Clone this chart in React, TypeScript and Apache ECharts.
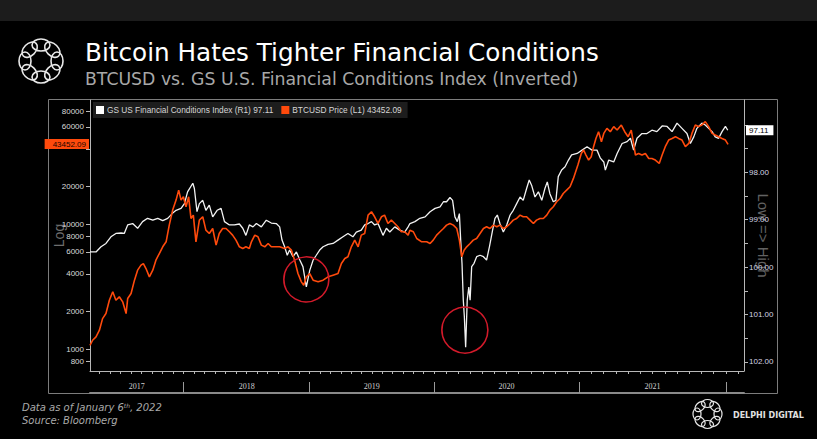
import React, { useEffect, useRef } from 'react';
import * as echarts from 'echarts';

const gsLabel = 'GS US Financial Conditions Index (R1)';
const btcLabel = 'BTCUSD Price (L1)';
const gsLast = 97.11;
const btcLast = 43452.09;

// [observation index (weekly), index level]
const gsIndex: [number, number][] = [
  [0, 99.68], [2.3, 99.68], [4.2, 99.57], [6.1, 99.5], [8.0, 99.36], [9.9, 99.29], [11.9, 99.28], [13.1, 99.29], [14.4, 99.11], [16.3, 99.08], [18.2, 99.18], [20.1, 99.04], [22.0, 98.97], [24.0, 99.01], [25.9, 98.97], [27.8, 99.02], [29.7, 98.97], [31.4, 98.87], [32.9, 98.8], [34.8, 98.76], [36.1, 98.66], [37.3, 98.41], [39.3, 98.23], [39.9, 98.34], [40.9, 98.83], [41.8, 98.66], [43.1, 98.59], [44.3, 98.8], [45.6, 98.69], [46.9, 98.94], [48.6, 98.8], [50.1, 98.76], [51.4, 99.04], [53.3, 99.11], [55.2, 99.11], [57.1, 99.09], [58.4, 99.18], [59.6, 99.33], [60.9, 99.11],
  [62.3, 99.15], [63.6, 99.08], [65.5, 99.15], [67.4, 99.01], [69.3, 99.07], [71.2, 99.08], [72.5, 99.15], [73.4, 99.43], [74.4, 99.57], [75.4, 99.75], [76.3, 99.64], [77.6, 99.78], [78.9, 99.68], [80.2, 99.85], [81.4, 99.99], [82.7, 100.42], [84.0, 100.07], [85.3, 99.85], [86.5, 99.75], [87.8, 99.64], [89.1, 99.57], [91.0, 99.52], [92.9, 99.5], [94.8, 99.43], [96.7, 99.36], [98.6, 99.29], [100.5, 99.36], [101.8, 99.26], [103.7, 99.22], [105.0, 99.11], [106.3, 99.08], [107.6, 99.04], [108.8, 99.11], [110.1, 99.08], [112.0, 99.33], [113.3, 99.18], [114.6, 99.26], [116.5, 99.15], [118.4, 99.22], [120.3, 99.26], [121.6, 99.15],
  [122.3, 99.08], [124.2, 99.04], [126.1, 98.97], [128.1, 98.94], [130.0, 98.83], [131.9, 98.76], [133.8, 98.73], [135.1, 98.62], [136.3, 98.62], [137.6, 98.53], [138.6, 98.59], [139.5, 98.94], [140.4, 99.04], [141.2, 98.87], [141.7, 99.43], [142.2, 99.92], [142.7, 100.7], [143.1, 101.05], [143.6, 101.69], [144.2, 100.7], [144.8, 100.42], [145.3, 100.7], [145.9, 99.99], [146.8, 99.92], [147.8, 99.78], [149.1, 99.75], [150.4, 99.78], [151.6, 99.85], [152.7, 99.57], [153.9, 99.22], [154.8, 98.97], [155.7, 98.9], [156.7, 99.08], [158.0, 99.26], [159.3, 99.11], [160.6, 98.9], [161.8, 98.8], [163.1, 98.66], [164.4, 98.52], [165.6, 98.59], [166.9, 98.34], [167.9, 98.16], [168.8, 98.27], [170.1, 98.52], [171.4, 98.41], [172.7, 98.59], [173.9, 98.34], [174.8, 98.2], [175.8, 98.45], [177.1, 98.62], [178.1, 98.59], [179.0, 98.09], [180.3, 97.95], [181.6, 97.88], [182.9, 97.74], [184.1, 97.63],
  [186.2, 97.6], [188.1, 97.53], [190.0, 97.46], [191.9, 97.53], [193.8, 97.53], [195.1, 97.7], [196.4, 97.78], [197.0, 97.95], [198.3, 97.74], [200.2, 97.78], [201.5, 97.6], [203.4, 97.39], [205.3, 97.35], [206.6, 97.28], [207.8, 97.53], [209.1, 97.28], [211.0, 97.18], [212.9, 97.18], [214.8, 97.11], [216.7, 97.14], [218.7, 97.02], [220.6, 97.03], [222.5, 97.14], [224.4, 96.96], [226.3, 97.07], [228.2, 97.18], [229.5, 97.39], [230.8, 97.25], [232.0, 97.07], [233.9, 96.96], [235.2, 97.0], [236.5, 97.07], [237.8, 97.14], [239.0, 97.25], [240.3, 97.28], [241.6, 97.14], [242.9, 97.03], [243.8, 97.11],
];

// [observation index (weekly), BTCUSD price]
const btcPrice: [number, number][] = [
  [0, 1076], [1.0, 1180], [2.3, 1256], [3.6, 1419], [4.8, 1758], [6.1, 1928], [7.4, 2466], [8.7, 2877], [9.9, 2466], [11.2, 2624], [12.5, 2393], [13.8, 1928], [14.4, 2541], [15.7, 2786], [17.0, 3565], [18.2, 4285], [19.5, 4698], [20.4, 4842], [21.4, 4416], [22.7, 3791], [24.0, 4285], [25.2, 5152], [26.5, 5821], [27.8, 6586], [29.1, 7221], [30.3, 9817], [31.6, 12942], [32.9, 15560], [33.9, 18707], [34.8, 15560], [35.7, 16550], [36.7, 13770], [37.7, 16550], [38.6, 11100], [39.5, 11800], [40.5, 7221], [41.8, 10770], [43.1, 11450], [44.3, 8950], [45.6, 8414], [46.9, 9226], [48.2, 6793], [49.4, 8414], [50.7, 9226], [52.0, 9226], [53.3, 8690], [54.5, 8170], [55.8, 7447], [57.1, 6586], [58.4, 6383], [59.6, 6586], [60.9, 6383],
  [61.7, 7221], [63.0, 8170], [64.2, 7925], [65.5, 6793], [66.8, 6586], [68.1, 7000], [69.3, 6586], [70.6, 6586], [72.5, 6586], [74.4, 6383], [75.7, 6586], [77.0, 6194], [78.2, 5152], [79.5, 4027], [80.8, 3456], [81.7, 3251], [82.7, 3791], [84.0, 4027], [85.3, 3565], [87.2, 3456], [89.1, 3565], [91.0, 3791], [92.9, 3908], [94.8, 4027], [96.1, 4842], [97.4, 5309], [98.6, 5483], [99.9, 6586], [101.2, 7447], [102.5, 6586], [103.7, 8170], [105.0, 8414], [106.3, 11800], [107.6, 12560], [108.8, 11450], [110.1, 10120], [111.4, 11450], [112.6, 11800], [113.9, 10120], [115.2, 10770], [116.5, 10120], [117.7, 9520], [119.0, 8690], [120.3, 8690], [121.6, 8170],
  [122.3, 8950], [123.6, 8690], [124.9, 7674], [126.8, 7221], [128.7, 7221], [130.0, 7000], [131.2, 7447], [132.5, 8170], [133.8, 8690], [135.1, 9226], [136.3, 9817], [137.6, 10120], [138.9, 9817], [140.2, 9226], [141.2, 7447], [142.1, 5483], [143.0, 6194], [144.0, 6586], [145.3, 7000], [146.5, 7447], [147.8, 7674], [149.1, 8414], [150.4, 9226], [151.6, 9520], [152.9, 9226], [154.2, 9817], [155.5, 9520], [156.7, 9817], [158.0, 9226], [159.3, 9520], [160.6, 10120], [161.8, 10770], [163.1, 11100], [164.4, 11800], [165.6, 11450], [166.9, 11450], [168.2, 10770], [169.5, 10120], [170.7, 10770], [172.0, 11100], [173.3, 11100], [174.6, 11800], [175.8, 12942], [177.1, 13770], [178.4, 15100], [179.7, 16030], [180.9, 17580], [182.2, 18707], [183.5, 19900], [184.8, 23190],
  [186.5, 29650], [187.8, 36730], [188.7, 39080], [189.6, 35650], [190.6, 32510], [191.6, 34580], [192.5, 41590], [193.4, 48420], [194.4, 54800], [195.5, 45600], [196.4, 53100], [197.6, 58230], [198.9, 54800], [200.2, 60120], [201.5, 56490], [203.1, 61940], [204.4, 54800], [205.7, 50000], [206.9, 56490], [207.8, 44160], [208.5, 35650], [209.7, 36730], [211.0, 35650], [212.3, 36730], [213.6, 33500], [214.8, 33500], [216.1, 32510], [217.6, 30550], [218.7, 35650], [219.9, 41590], [221.2, 46990], [222.5, 48420], [223.8, 50000], [225.0, 48420], [226.3, 46990], [227.6, 41590], [228.9, 44160], [230.1, 53100], [231.4, 61940], [232.7, 60120], [233.9, 61940], [235.2, 65920], [236.5, 60120], [237.8, 53100], [239.0, 51520], [240.3, 50000], [241.6, 48420], [242.9, 46990], [243.9, 43452.09],
];

const leftTickValues = [800, 1000, 2000, 4000, 6000, 8000, 10000, 20000, 40000, 60000, 80000];
const leftLabelValues = [800, 1000, 2000, 4000, 6000, 8000, 10000, 20000, 60000, 80000];
const rightLabelValues = [98, 99, 100, 101, 102];
const rightTickValues = [97, 97.5, 98, 98.5, 99, 99.5, 100, 100.5, 101, 101.5, 102];
const years = ['2017', '2018', '2019', '2020', '2021'];
// observation index at which each year segment starts (first = chart start), last = 2022
const yearStarts = [0, 35.8, 84.0, 131.5, 187.0, 243.1];
// circled episodes: [observation index, GS index]
const circledPoints: [number, number][] = [[82.7, 100.26], [143.3, 101.33]];

const L = (v: number) => Math.log10(v);

function logoGroup(cx: number, cy: number, ring: number, rx: number, ry: number, lw: number) {
  const children: any[] = [];
  for (let i = 0; i < 8; i++) {
    const a = (i / 8) * Math.PI * 2;
    children.push({
      type: 'ellipse',
      x: cx + ring * Math.cos(a),
      y: cy + ring * Math.sin(a),
      rotation: -(a + Math.PI / 2),
      shape: { cx: 0, cy: 0, rx, ry },
      style: { fill: 'none', stroke: '#e8e8e8', lineWidth: lw },
    });
  }
  return { type: 'group', children };
}

export default function App() {
  const ref = useRef<HTMLDivElement>(null);
  useEffect(() => {
    document.body.style.margin = '0';
    document.body.style.background = '#000';
    const chart = echarts.init(ref.current!, undefined, { renderer: 'svg' });

    const yearMids = years.map((_, i) => (yearStarts[i] + yearStarts[i + 1]) / 2);
    const monthTicks: number[] = [];
    for (let i = 1; i < yearStarts.length - 1; i++) {
      const a = yearStarts[i], b = yearStarts[i + 1];
      for (let k = 0; k < 12; k++) monthTicks.push(a + ((b - a) * k) / 12);
    }
    const w0 = (yearStarts[2] - yearStarts[1]) / 12;
    for (let t = yearStarts[1] - w0; t >= 0; t -= w0) monthTicks.push(t);
    const wl = (yearStarts[5] - yearStarts[4]) / 12;
    monthTicks.push(yearStarts[5], yearStarts[5] + wl);
    monthTicks.sort((a, b) => a - b);

    const axisGray = '#b8b8b8';
    const clear = 'rgba(0,0,0,0)';

    chart.setOption({
      animation: false,
      backgroundColor: '#000',
      grid: [
        { left: 90, right: 73, top: 100, height: 271 },
        { left: 90, right: 73, top: 371, height: 22 },
      ],
      legend: {
        left: 93,
        top: 102,
        data: [gsLabel, btcLabel],
        icon: 'rect',
        itemWidth: 8,
        itemHeight: 8,
        itemGap: 8,
        backgroundColor: '#1d1d1d',
        padding: [4, 6, 4, 3],
        textStyle: { color: '#d6d6d6', fontSize: 8.3, fontFamily: 'Liberation Sans', padding: [0, 0, 0, -2] },
        formatter: (name: string) => (name === gsLabel ? `${name} ${gsLast}` : `${name} ${btcLast}`),
      },
      xAxis: [
        {
          type: 'value', gridIndex: 0, min: 0, max: 250,
          axisLine: { show: true, lineStyle: { color: axisGray } },
          axisTick: { show: true, customValues: monthTicks, length: 3, lineStyle: { color: axisGray } },
          axisLabel: {
            customValues: yearMids, margin: 11, color: '#cfcfcf', fontSize: 8, fontFamily: 'Liberation Serif',
            formatter: (v: number) => {
              const i = yearMids.findIndex((m) => Math.abs(m - v) < 0.01);
              return i >= 0 ? years[i] : '';
            },
          },
          splitLine: { show: false },
        },
        {
          type: 'value', gridIndex: 1, min: 0, max: 250,
          axisLine: { show: true, lineStyle: { color: '#8a8a8a', width: 2 } },
          axisTick: { show: true, inside: true, customValues: yearStarts.slice(1), length: 11, lineStyle: { color: '#9a9a9a' } },
          axisLabel: { show: false },
          splitLine: { show: false },
        },
      ],
      yAxis: [
        {
          type: 'value', gridIndex: 0, position: 'left', min: L(670), max: L(98200),
          name: 'Log', nameLocation: 'middle', nameGap: 24, nameMoveOverlap: false,
          nameTextStyle: { color: '#6e6e6e', fontSize: 14, fontFamily: 'Liberation Sans' },
          axisLine: { show: true, lineStyle: { color: axisGray } },
          axisTick: { show: true, customValues: leftTickValues.map(L), length: 4, lineStyle: { color: axisGray } },
          axisLabel: {
            customValues: leftLabelValues.map(L), margin: 6, color: '#dadada', fontSize: 8, fontFamily: 'Liberation Sans',
            formatter: (v: number) => String(Math.round(Math.pow(10, v))),
          },
          splitLine: { show: false },
        },
        {
          type: 'value', gridIndex: 0, position: 'right', inverse: true, min: 96.4715, max: 102.194,
          name: 'Low => High', nameLocation: 'middle', nameGap: 12, nameRotate: -90, nameMoveOverlap: false,
          nameTextStyle: { color: '#626262', fontSize: 15, fontFamily: 'Liberation Sans' },
          axisLine: { show: true, lineStyle: { color: axisGray } },
          axisTick: { show: true, customValues: rightTickValues, length: 4, lineStyle: { color: axisGray } },
          axisLabel: {
            customValues: rightLabelValues, margin: 5, color: '#d4d4e4', fontSize: 8, fontFamily: 'Liberation Sans',
            formatter: (v: number) => v.toFixed(2),
          },
          splitLine: { show: false },
        },
        {
          type: 'value', gridIndex: 1, show: false, min: 0, max: 1,
        },
      ],
      series: [
        {
          type: 'line', name: gsLabel, xAxisIndex: 0, yAxisIndex: 1,
          data: gsIndex, showSymbol: false, symbol: 'none', z: 3,
          lineStyle: { color: '#f2f2f2', width: 1.3 }, itemStyle: { color: '#ffffff' },
          markLine: {
            silent: true, symbol: ['none', 'none'], animation: false,
            lineStyle: { color: clear, width: 1, type: 'solid' },
            data: [{ yAxis: gsLast }],
            label: {
              show: true, position: 'end', distance: 2, formatter: String(gsLast),
              backgroundColor: '#ffffff', color: '#000', fontSize: 8, padding: [1, 5, 1, 3], fontFamily: 'Liberation Sans',
            },
          },
          markPoint: {
            silent: true, symbol: 'circle', animation: false,
            label: { show: false },
            itemStyle: { color: clear, borderColor: '#d21a2a', borderWidth: 1.6 },
            data: circledPoints.map(([x, y], i) => ({ coord: [x, y], symbolSize: i === 0 ? 45 : 46 })),
          },
        },
        {
          type: 'line', name: btcLabel, xAxisIndex: 0, yAxisIndex: 0,
          data: btcPrice.map(([x, v]) => [x, L(v)]), showSymbol: false, symbol: 'none', z: 4,
          lineStyle: { color: '#ff4a0c', width: 1.6 }, itemStyle: { color: '#ff4a0c' },
          markLine: {
            silent: true, symbol: ['none', 'none'], animation: false,
            lineStyle: { color: clear, width: 1, type: 'solid' },
            data: [{ yAxis: L(btcLast) }],
            label: {
              show: true, position: 'start', distance: 1, formatter: String(btcLast),
              backgroundColor: '#ff4a0c', color: '#1a0500', fontSize: 8, padding: [1, 3, 1, 8], fontFamily: 'Liberation Sans',
            },
          },
        },
      ],
      graphic: [
        { type: 'rect', z: -10, shape: { x: 0, y: 0, width: 817, height: 21 }, style: { fill: '#1c1c1c' } },
        { type: 'rect', z: -5, shape: { x: 48.5, y: 99.5, width: 729, height: 294 }, style: { fill: 'none', stroke: '#7c7c7c', lineWidth: 1 } },
        logoGroup(41, 61, 16, 9, 6, 1.6),
        {
          type: 'text', x: 85, y: 52.5,
          style: { text: 'Bitcoin Hates Tighter Financial Conditions', fill: '#ffffff', fontSize: 24.7, fontFamily: 'DejaVu Sans', verticalAlign: 'middle' },
        },
        {
          type: 'text', x: 85, y: 78.5,
          style: { text: 'BTCUSD vs. GS U.S. Financial Conditions Index (Inverted)', fill: '#a8a8a8', fontSize: 17.3, fontFamily: 'DejaVu Sans', verticalAlign: 'middle' },
        },
        {
          type: 'text', x: 22, y: 407,
          style: {
            text: '{a|Data as of January 6}{s|th}{a|, 2022}',
            verticalAlign: 'middle',
            rich: {
              a: { fill: '#a9a9a9', fontSize: 10, fontStyle: 'italic', fontFamily: 'DejaVu Sans' },
              s: { fill: '#a9a9a9', fontSize: 6, fontStyle: 'italic', fontFamily: 'DejaVu Sans', verticalAlign: 'top' },
            },
          },
        },
        {
          type: 'text', x: 22, y: 420,
          style: { text: 'Source: Bloomberg', fill: '#a9a9a9', fontSize: 10, fontStyle: 'italic', fontFamily: 'DejaVu Sans', verticalAlign: 'middle' },
        },
        logoGroup(707.5, 414, 10.5, 6, 4, 1.2),
        {
          type: 'text', x: 733, y: 415,
          style: { text: 'DELPHI DIGITAL', fill: '#e0e0e0', fontSize: 8, fontWeight: 'bold', fontFamily: 'DejaVu Sans', verticalAlign: 'middle' },
        },
      ],
    });
    return () => chart.dispose();
  }, []);
  return <div ref={ref} style={{ width: 817, height: 439 }} />;
}
